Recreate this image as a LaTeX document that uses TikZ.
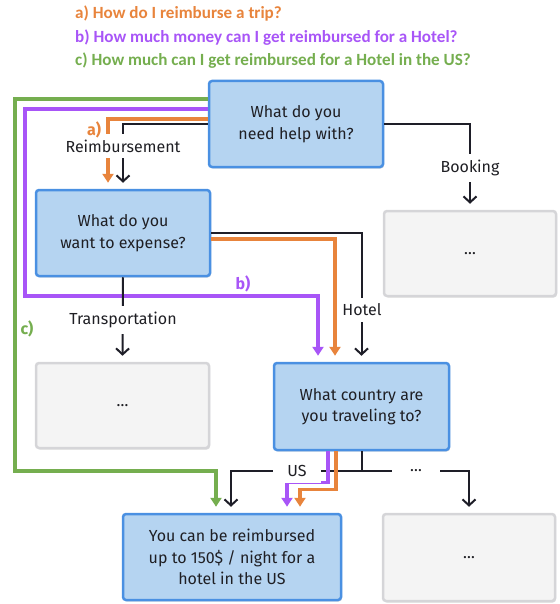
\documentclass[tikz,border=0pt]{standalone}
\usepackage{fontspec}
\setmainfont{Fira Sans}
\newfontfamily\calfont{Carlito}
\usetikzlibrary{arrows.meta,shadows}
\definecolor{cor}{HTML}{E8843C}
\definecolor{cpu}{HTML}{A855F7}
\definecolor{cgr}{HTML}{75AE4F}
\definecolor{bbord}{HTML}{4A90E2}
\definecolor{bfill}{HTML}{B5D4F1}
\definecolor{gbord}{HTML}{D5D5D8}
\definecolor{gfill}{HTML}{F4F4F4}
\definecolor{txt}{HTML}{1F1F24}
\definecolor{blk}{HTML}{1E1E28}
\tikzset{
  boxbase/.style={rectangle, rounded corners=3pt, line width=2.5pt, align=center,
    text=txt, font=\fontsize{16}{21.5}\selectfont, inner sep=0pt,
    drop shadow={shadow xshift=1pt, shadow yshift=-1.5pt, opacity=0.25}},
  bluebox/.style={boxbase, draw=bbord, fill=bfill},
  graybox/.style={boxbase, draw=gbord, fill=gfill},
  blkline/.style={draw=blk, line width=2pt, shorten >=6pt,
    -{Straight Barb[length=6pt,width=13pt,line width=2pt]}},
  colline/.style={line width=3.2pt, shorten >=6pt, -{Triangle[length=9pt,width=11pt]}},
  lbl/.style={fill=white, text=txt, inner xsep=2pt, inner ysep=6pt,
    font=\fontsize{16}{19}\selectfont},
  tag/.style={font=\bfseries\fontsize{16}{19}\selectfont, inner sep=0pt},
  qline/.style={font=\calfont\bfseries\fontsize{17.1}{20}\selectfont, anchor=west, inner sep=0pt}
}
\begin{document}
\begin{tikzpicture}[x=1pt,y=-1pt]
\useasboundingbox (0,0) rectangle (559,604);

% question lines
\node[qline, text=cor] (qa) at (75,14) {a) How do I reimburse a trip?};
\node[qline, text=cpu] (qb) at (75,38) {b) How much money can I get reimbursed for a Hotel?};
\node[qline, text=cgr] (qc) at (75,61) {c) How much can I get reimbursed for a Hotel in the US?};

% boxes
\node[bluebox, minimum width=174pt, minimum height=86pt] (b1) at (296,124) {What do you\\need help with?};
\node[bluebox, minimum width=174pt, minimum height=86pt] (b2) at (123,233) {What do you\\want to expense?};
\node[graybox, minimum width=172pt, minimum height=85pt] (gbook) at (470,253.5) {\dots};
\node[graybox, minimum width=173pt, minimum height=85pt] (gtrans) at (122.5,405.5) {\dots};
\node[bluebox, minimum width=175pt, minimum height=87pt] (b3) at (361.5,406.5) {What country are\\you traveling to?};
\node[bluebox, minimum width=218pt, minimum height=86pt] (b4) at (232,557) {You can be reimbursed\\up to 150\$ / night for a\\hotel in the US};
\node[graybox, minimum width=172pt, minimum height=87pt] (gbr) at (469,557.5) {\dots};

% black connectors
\draw[blkline] (b1.west) -| (b2.north);
\draw[blkline] (b1.east) -| (gbook.north);
\draw[blkline] (b2.east) -| (b3.north);
\draw[draw=blk, line width=2pt] (b3.south) -- ++(0,20) coordinate (j);
\draw[blkline] (j) -| ([xshift=-1pt]b4.north);
\draw[blkline] (j) -| (gbr.north);

% colored paths
\draw[colline, cgr] ([yshift=25pt]b1.west) -| (15,471) -| ([xshift=-16pt]b4.north);
\draw[colline, cpu] ([yshift=15pt]b1.west) -| (25,296) -| ([xshift=-43.5pt]b3.north);
\draw[colline, cor] ([yshift=5pt]b1.west) -| ([xshift=-15pt]b2.north);
\draw[colline, cor] ([yshift=-6pt]b2.east) -| ([xshift=-26.5pt]b3.north);
\draw[colline, cpu] ([xshift=-33.5pt]b3.south) -- ++(0,31) -| ([xshift=55pt]b4.north);
\draw[colline, cor] ([xshift=-25.5pt]b3.south) -- ++(0,38) -| ([xshift=68pt]b4.north);

% transportation connector (drawn over purple)
\draw[blkline] (b2.south) -- (gtrans.north);

% labels
\node[lbl] (lreimb) at (123,146) {Reimbursement};
\node[lbl] (lbook) at (470,168) {Booking};
\node[lbl] (lhotel) at (362,310) {Hotel};
\node[lbl] (ltrans) at (123,320) {Transportation};
\node[lbl, minimum width=48pt] (lus) at (297,471) {US};
\node[lbl, minimum width=48pt] (ldots) at (416,471) {\dots};

\node[tag, text=cor] (ta) at (94,130) {a)};
\node[tag, text=cpu] (tb) at (243,284) {b)};
\node[tag, text=cgr] (tc) at (27,329) {c)};
\end{tikzpicture}
\end{document}
